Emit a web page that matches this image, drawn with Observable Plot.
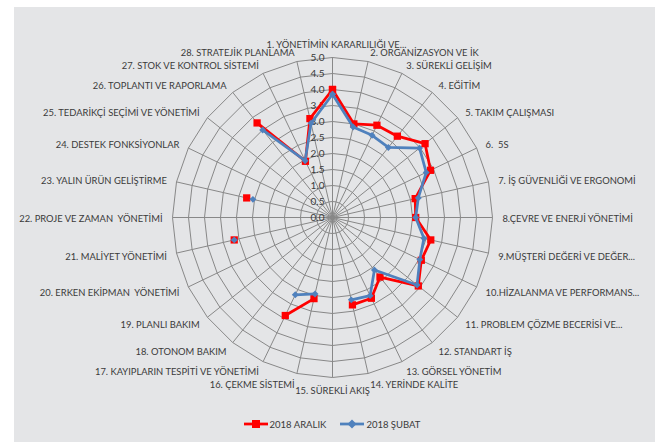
<!DOCTYPE html>
<html>
<head>
<meta charset="utf-8">
<script src="https://cdn.jsdelivr.net/npm/d3@7"></script>
<script src="https://cdn.jsdelivr.net/npm/@observablehq/plot@0.6"></script>
<style>
  body { margin: 0; background: #ffffff; }
  #wrap { position: relative; width: 664px; height: 442px; background: #ffffff; overflow: hidden; }
  #bg { position: absolute; left: 14px; top: 7px; width: 641px; height: 435px; background: #e4e5e7; }
  #chart { position: absolute; left: 0; top: 0; }
  #chart text.cat { letter-spacing: -0.15px; }
  #legend { position: absolute; left: 0; top: 418px; width: 664px; display: flex; justify-content: center; gap: 14px;
            font-family: Lato, "Open Sans", sans-serif; font-size: 9.5px; color: #3a3a3a; }
  #legend .item { display: flex; align-items: center; gap: 2px; }
</style>
</head>
<body>
<div id="wrap">
  <div id="bg"></div>
  <div id="chart"></div>
  <div id="legend"></div>
</div>
<script>
const categories = [
  "1. YÖNETİMİN KARARLILIĞI VE...",
  "2. ORGANİZASYON VE İK",
  "3. SÜREKLİ GELİŞİM",
  "4. EĞİTİM",
  "5. TAKIM ÇALIŞMASI",
  "6.  5S",
  "7. İŞ GÜVENLİĞİ VE ERGONOMİ",
  "8.ÇEVRE VE ENERJİ YÖNETİMİ",
  "9.MÜŞTERİ DEĞERİ VE DEĞER...",
  "10.HİZALANMA VE PERFORMANS...",
  "11. PROBLEM ÇÖZME BECERİSİ VE...",
  "12. STANDART İŞ",
  "13. GÖRSEL YÖNETİM",
  "14. YERİNDE KALİTE",
  "15. SÜREKLİ AKIŞ",
  "16. ÇEKME SİSTEMİ",
  "17. KAYIPLARIN TESPİTİ VE YÖNETİMİ",
  "18. OTONOM BAKIM",
  "19. PLANLI BAKIM",
  "20. ERKEN EKİPMAN  YÖNETİMİ",
  "21. MALİYET YÖNETİMİ",
  "22. PROJE VE ZAMAN  YÖNETİMİ",
  "23. YALIN ÜRÜN GELİŞTİRME",
  "24. DESTEK FONKSİYONLAR",
  "25. TEDARİKÇİ SEÇİMİ VE YÖNETİMİ",
  "26. TOPLANTI VE RAPORLAMA",
  "27. STOK VE KONTROL SİSTEMİ",
  "28. STRATEJİK PLANLAMA"
];

const aralik = [4.0, 3.0, 3.2, 3.25, 3.7, 3.4, 2.65, 2.6, 3.15, 3.08, 3.43, 2.38, 2.8, 2.8,
                null, 2.6, 3.4, null, null, null, 3.15, null, 2.75, null, null, 3.78, 1.95, 3.17];
const subat  = [3.85, 2.9, 2.85, 2.8, 3.48, 3.25, 2.75, 2.6, 2.93, 3.03, 3.38, 2.1, 2.71, 2.64,
                null, 2.45, 2.68, null, null, null, 3.15, null, 2.55, null, null, 3.5, 1.97, 3.02];

const seriesNames = ["2018 ARALIK", "2018 ŞUBAT"];
const seriesColors = ["#ff0000", "#4f81bd"];

const tickValues = [0, 0.5, 1, 1.5, 2, 2.5, 3, 3.5, 4, 4.5, 5];
const tickLabels = ["0.0", "0.5", "1.0", "1.5", "2.0", "2.5", "3.0", "3.5", "4.0", "4.5", "5.0"];

const N = categories.length;
const maxV = 5;
const labelR = 5.31;
const ang = i => i * 2 * Math.PI / N;
const px = (v, i) => v == null ? NaN : v * Math.sin(ang(i));
const py = (v, i) => v == null ? NaN : v * Math.cos(ang(i));

function pts(name, vals) {
  const p = vals.map((v, i) => ({series: name, i, v, x: px(v, i), y: py(v, i)}));
  return p.concat([p[0]]); // close the polygon (28 -> 1)
}
const redPts = pts(seriesNames[0], aralik);
const bluePts = pts(seriesNames[1], subat);

const rings = [];
for (const t of tickValues.filter(t => t > 0)) {
  for (let j = 0; j <= N; j++) rings.push({r: t, x: px(t, j), y: py(t, j)});
}
const spokes = categories.map((c, i) => ({x1: 0, y1: 0, x2: px(maxV, i), y2: py(maxV, i)}));
const labels = categories.map((c, i) => ({label: c, i, x: px(labelR, i), y: py(labelR, i)}));
const ticks = tickValues.map((t, k) => ({v: t, label: tickLabels[k]}));

const textColor = "#3a3a3a";
const font = "Lato";
const catFont = 9.4;

const chart = Plot.plot({
  width: 664,
  height: 442,
  margin: 0,
  style: {background: "transparent", fontFamily: font, fontSize: "10px"},
  x: {domain: [-5, 5], range: [172, 492], axis: null},
  y: {domain: [-5, 5], range: [377, 57], axis: null},
  marks: [
    Plot.line(rings, {x: "x", y: "y", z: "r", stroke: "#888888", strokeWidth: 1}),
    Plot.link(spokes, {x1: "x1", y1: "y1", x2: "x2", y2: "y2", stroke: "#888888", strokeWidth: 1}),
    Plot.text(ticks, {x: () => 0, y: "v", text: "label", textAnchor: "end", dx: -8, fill: textColor, fontSize: 10}),
    Plot.text(labels.filter(d => d.i === 0), {x: "x", y: "y", text: "label", textAnchor: "middle", lineAnchor: "bottom", dx: 4, fill: textColor, fontSize: catFont, className: "cat"}),
    Plot.text(labels.filter(d => d.i === 14), {x: "x", y: "y", text: "label", textAnchor: "middle", lineAnchor: "top", fill: textColor, fontSize: catFont, className: "cat"}),
    Plot.text(labels.filter(d => d.i > 0 && d.i < 14), {x: "x", y: "y", text: "label", textAnchor: "start", dy: 1.5, fill: textColor, fontSize: catFont, className: "cat"}),
    Plot.text(labels.filter(d => d.i > 14), {x: "x", y: "y", text: "label", textAnchor: "end", dy: 1.5, fill: textColor, fontSize: catFont, className: "cat"}),
    Plot.line(redPts, {x: "x", y: "y", stroke: seriesColors[0], strokeWidth: 2.75, strokeLinejoin: "round"}),
    Plot.dot(redPts, {x: "x", y: "y", symbol: "square", r: 4.1, fill: seriesColors[0], stroke: "none"}),
    Plot.line(bluePts, {x: "x", y: "y", stroke: seriesColors[1], strokeWidth: 2.75, strokeLinejoin: "round"}),
    Plot.dot(bluePts, {x: "x", y: "y", symbol: "diamond2", r: 3.1, fill: seriesColors[1], stroke: "none"})
  ]
});
chart.querySelectorAll("g[aria-label='text']").forEach((g, k) => { if (k > 0) g.classList.add("cat"); });
document.getElementById("chart").appendChild(chart);

// legend
const legend = document.getElementById("legend");
const shapes = [
  '<rect x="8" y="2" width="8" height="8" fill="#ff0000"/>',
  '<path d="M12,1.5 L16.5,6 L12,10.5 L7.5,6 Z" fill="#4f81bd"/>'
];
seriesNames.forEach((name, k) => {
  const item = document.createElement("div");
  item.className = "item";
  item.innerHTML = `<svg width="24" height="12"><line x1="0" y1="6" x2="24" y2="6" stroke="${seriesColors[k]}" stroke-width="2.75"/>${shapes[k]}</svg><span>${name}</span>`;
  legend.appendChild(item);
});
</script>
</body>
</html>
